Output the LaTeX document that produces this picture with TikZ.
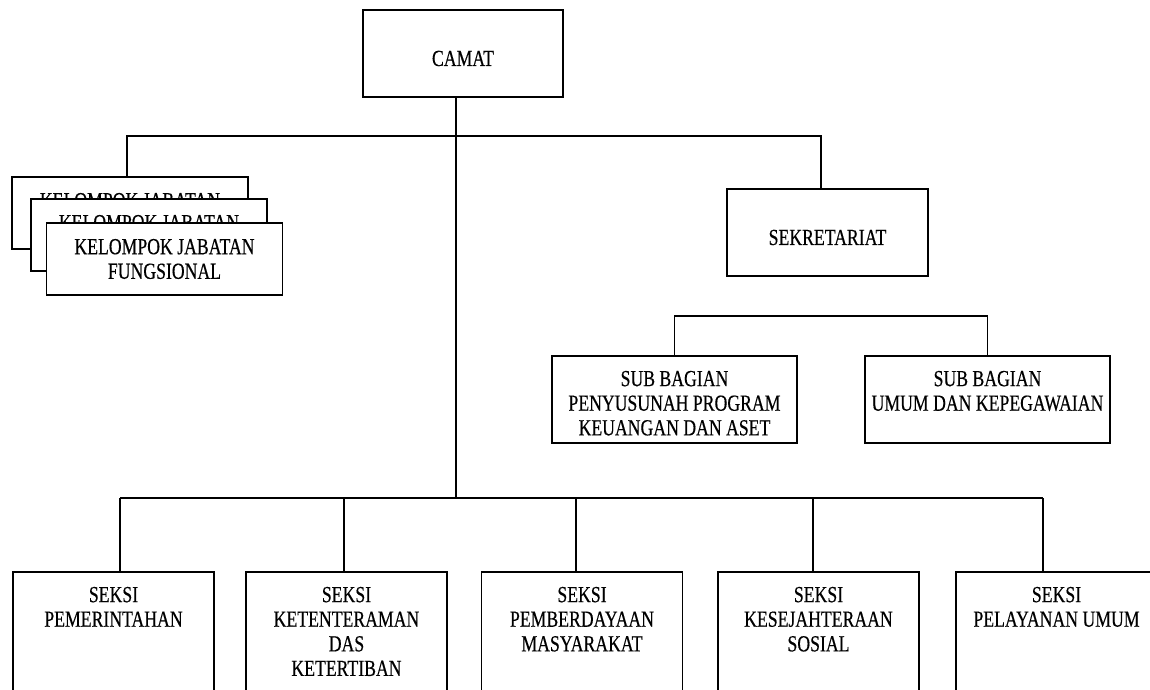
\documentclass[tikz,border=0pt]{standalone}
\usepackage{fontspec}
\setmainfont{Liberation Serif}[FakeStretch=0.77, FakeBold=0.4]

% text hung from the top of a box
\newcommand{\toptext}[3]{\parbox[c][#1][t]{#2}{\centering\vspace*{7.5pt}#3\par}}

\begin{document}
\begin{tikzpicture}[x=0.5pt, y=-0.5pt,
	box/.style={draw, line width=0.9pt, fill=white, inner sep=0pt, font=\fontsize{11.5}{12.3}\selectfont},
	headbox/.style={box, minimum width=100pt, minimum height=43.5pt, text height=12.6pt},
	kjfbox/.style={box, minimum width=118pt, minimum height=36pt, align=center},
	conn/.style={line width=0.9pt}]

\def\subw{122.5pt}
\def\subh{43.5pt}
\def\seksiw{100.5pt}
\def\seksih{70pt}

\clip (0,0) rectangle (1150,690);

% HEAD
\node[headbox] (camat) at (463,53.5) {CAMAT};
\node[headbox, minimum width=100.5pt] (sekre) at (827.5,232.5) {SEKRETARIAT};

% KELOMPOK JABATAN FUNGSIONAL
\node[kjfbox] (kjfa) at (130,213) {KELOMPOK JABATAN\\FUNGSIONAL};
\node[kjfbox] (kjfb) at (149,235) {KELOMPOK JABATAN\\FUNGSIONAL};
\node[kjfbox] (kjfc) at (164.5,259) {KELOMPOK JABATAN\\FUNGSIONAL};

% SUB BAGIAN
\node[box, anchor=north] (suba) at (674.5,355) {\toptext{\subh}{\subw}{SUB BAGIAN\\PENYUSUNAH PROGRAM\\KEUANGAN DAN ASET}};
\node[box, anchor=north] (subb) at (987.5,355) {\toptext{\subh}{\subw}{SUB BAGIAN\\UMUM DAN KEPEGAWAIAN}};

% SEKSI
\foreach \n/\x/\lbl in {s1/113.5/{SEKSI\\PEMERINTAHAN},
		s2/346.5/{SEKSI\\KETENTERAMAN\\DAS\\KETERTIBAN},
		s3/582/{SEKSI\\PEMBERDAYAAN\\MASYARAKAT},
		s4/818.5/{SEKSI\\KESEJAHTERAAN\\SOSIAL},
		s5/1056.5/{SEKSI\\PELAYANAN UMUM}}
	\node[box, anchor=north] (\n) at (\x,571) {\toptext{\seksih}{\seksiw}{\lbl}};

% LINES
\coordinate (topbus) at (456,136);
\coordinate (botbus) at (456,498);
\coordinate (subbus) at (830,316);
\coordinate (cdrop) at ([xshift=-3.5pt]camat.south);

\draw[conn] (cdrop) -- (botbus);
\draw[conn] ([xshift=-1.5pt]kjfa.north) |- (topbus) -| ([xshift=-3.25pt]sekre.north);
\draw[conn] (suba.north) |- (subbus) -| (subb.north);

\foreach \n/\d in {s1/3.25pt, s2/-1.25pt, s3/-3pt, s4/-2.75pt, s5/-6.75pt} {
	\coordinate (\n-top) at ([xshift=\d]\n.north);
	\draw[conn] (\n-top) -- (\n-top |- botbus);
}
\draw[conn] (s1-top |- botbus) -- (s5-top |- botbus);

\end{tikzpicture}
\end{document}
